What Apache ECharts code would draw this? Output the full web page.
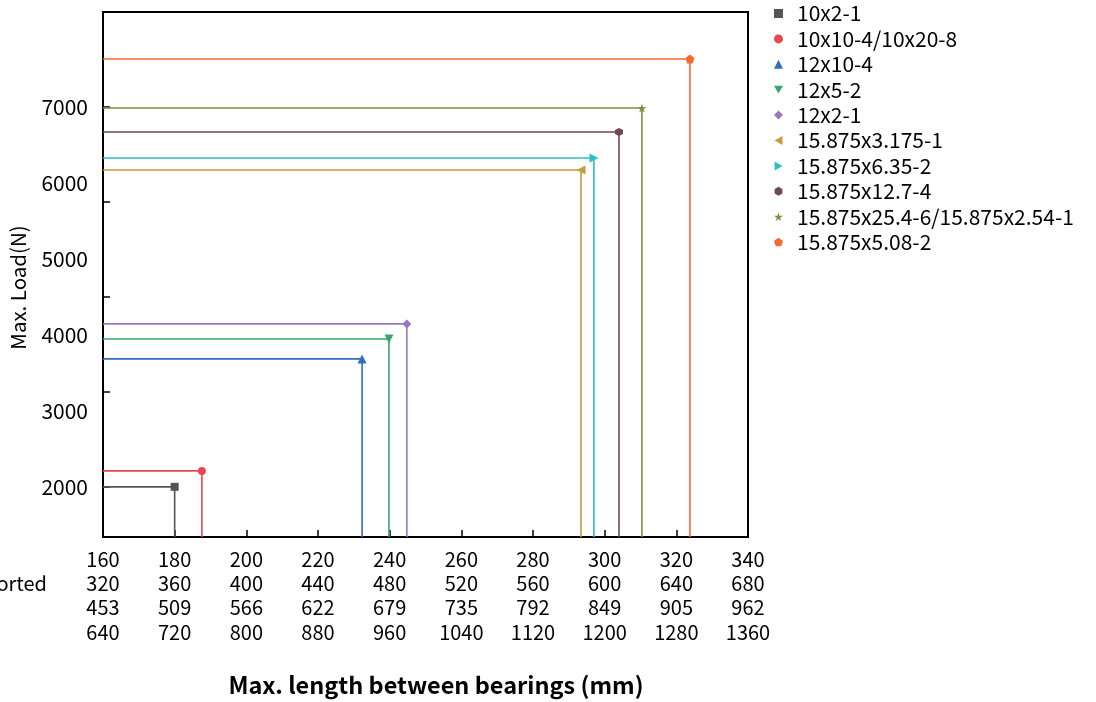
<!DOCTYPE html>
<html>
<head>
<meta charset="utf-8">
<script src="https://cdn.jsdelivr.net/npm/echarts@6/dist/echarts.min.js"></script>
<style>html,body{margin:0;padding:0;background:#fff;}#c{width:1096px;height:702px;}</style>
</head>
<body>
<div id="c"></div>
<script>
const seriesNames = ['10x2-1','10x10-4/10x20-8','12x10-4','12x5-2','12x2-1','15.875x3.175-1','15.875x6.35-2','15.875x12.7-4','15.875x25.4-6/15.875x2.54-1','15.875x5.08-2'];
const maxLength = [180, 187.6, 232.3, 239.8, 244.8, 293.4, 297.0, 304.0, 310.4, 323.8];
const maxLoad = [2000, 2210, 3684, 3947, 4145, 6171, 6329, 6671, 6987, 7632];
const colors = ['#555555','#e8474d','#2f6fbd','#3aa66e','#9a78c0','#c99a3e','#2cbfbf','#6d4a4f','#8a8a3a','#f26a30'];
const xTicks = [160,180,200,220,240,260,280,300,320,340];
const xRow2 = ['320','360','400','440','480','520','560','600','640','680'];
const xRow3 = ['453','509','566','622','679','735','792','849','905','962'];
const xRow4 = ['640','720','800','880','960','1040','1120','1200','1280','1360'];
const yLabels = [2000,3000,4000,5000,6000,7000];
const yTicks = [2000,3250,4500,5750,7000];
const X_MIN = 160, X_MAX = 340, Y_MIN = 1340, Y_MAX = 8250;

const STAR = 'path://M50,0 L61,35 L98,35 L68,57 L79,91 L50,70 L21,91 L32,57 L2,35 L39,35 Z';
const PENT = 'path://M50,0 L98,35 L79,91 L21,91 L2,35 Z';
const HEX = 'path://M50,0 L93,25 L93,75 L50,100 L7,75 L7,25 Z';
const TRI_DOWN = 'path://M0,0 L100,0 L50,87 Z';
const TRI_LEFT = 'path://M87,0 L87,100 L0,50 Z';
const TRI_RIGHT = 'path://M0,0 L0,100 L87,50 Z';
const symbols = ['rect','circle','triangle',TRI_DOWN,'diamond',TRI_LEFT,TRI_RIGHT,HEX,STAR,PENT];
const sizes = [8,8,9,9,9,9,9,8,9,9];

const FONT = '"Noto Sans CJK SC", "Noto Sans", sans-serif';
const FS = 20;
const chart = echarts.init(document.getElementById('c'));

const series = seriesNames.map((n, i) => ({
  name: n,
  type: 'line',
  symbol: symbols[i],
  symbolSize: sizes[i],
  showAllSymbol: true,
  color: colors[i],
  lineStyle: { width: 1.6, color: colors[i] },
  itemStyle: { color: colors[i] },
  animation: false,
  data: [
    { value: [X_MIN, maxLoad[i]], symbol: 'none' },
    { value: [maxLength[i], maxLoad[i]] },
    { value: [maxLength[i], Y_MIN], symbol: 'none' }
  ]
}));

const xLabelMap = {};
xTicks.forEach((v, i) => { xLabelMap[v] = v + '\n' + xRow2[i] + '\n' + xRow3[i] + '\n' + xRow4[i]; });

chart.setOption({
  backgroundColor: '#fff',
  animation: false,
  textStyle: { fontFamily: FONT },
  grid: { left: 103, right: 348, top: 12, bottom: 165, outerBoundsMode: 'none', containLabel: false,
    show: true, borderColor: '#000', borderWidth: 2, backgroundColor: 'transparent' },
  legend: {
    orient: 'vertical', left: 774, top: 3, padding: 0,
    itemWidth: 9, itemHeight: 9, itemGap: 4.4,
    data: seriesNames.map((n, i) => ({ name: n, icon: symbols[i] })),
    textStyle: { fontSize: 21, lineHeight: 20, color: '#000', fontFamily: FONT, padding: [0,0,0,9] }
  },
  xAxis: {
    type: 'value', min: X_MIN, max: X_MAX, interval: 20,
    name: 'Max. length between bearings (mm)', nameLocation: 'middle', nameGap: 136,
    nameTextStyle: { fontSize: 23.5, fontWeight: 'bold', color: '#000', fontFamily: FONT, padding: [0,0,0,21] },
    axisLine: { lineStyle: { color: '#000', width: 2 } },
    axisTick: { inside: true, length: 7, lineStyle: { color: '#000', width: 1.5 } },
    splitLine: { show: false },
    axisLabel: { fontSize: FS, color: '#000', lineHeight: 24.3, margin: 10, fontFamily: FONT,
      formatter: v => xLabelMap[v] !== undefined ? xLabelMap[v] : '' }
  },
  yAxis: {
    type: 'value', min: Y_MIN, max: Y_MAX,
    name: 'Max. Load(N)', nameLocation: 'middle', nameGap: 75, nameRotate: 90,
    nameTextStyle: { fontSize: 20.5, color: '#000', fontFamily: FONT, padding: [0,0,0,-26] },
    axisLine: { lineStyle: { color: '#000', width: 2 } },
    axisTick: { inside: true, length: 7, customValues: yTicks, lineStyle: { color: '#000', width: 1.5 } },
    splitLine: { show: false },
    axisLabel: { fontSize: 21, color: '#000', margin: 15, fontFamily: FONT, customValues: yLabels,
      formatter: v => String(v) }
  },
  graphic: [{
    type: 'text', x: 47, y: 583,
    style: { text: 'Simply supported', align: 'right', verticalAlign: 'middle', fontSize: FS, fill: '#000', fontFamily: FONT }
  }],
  series: series
});
</script>
</body>
</html>
